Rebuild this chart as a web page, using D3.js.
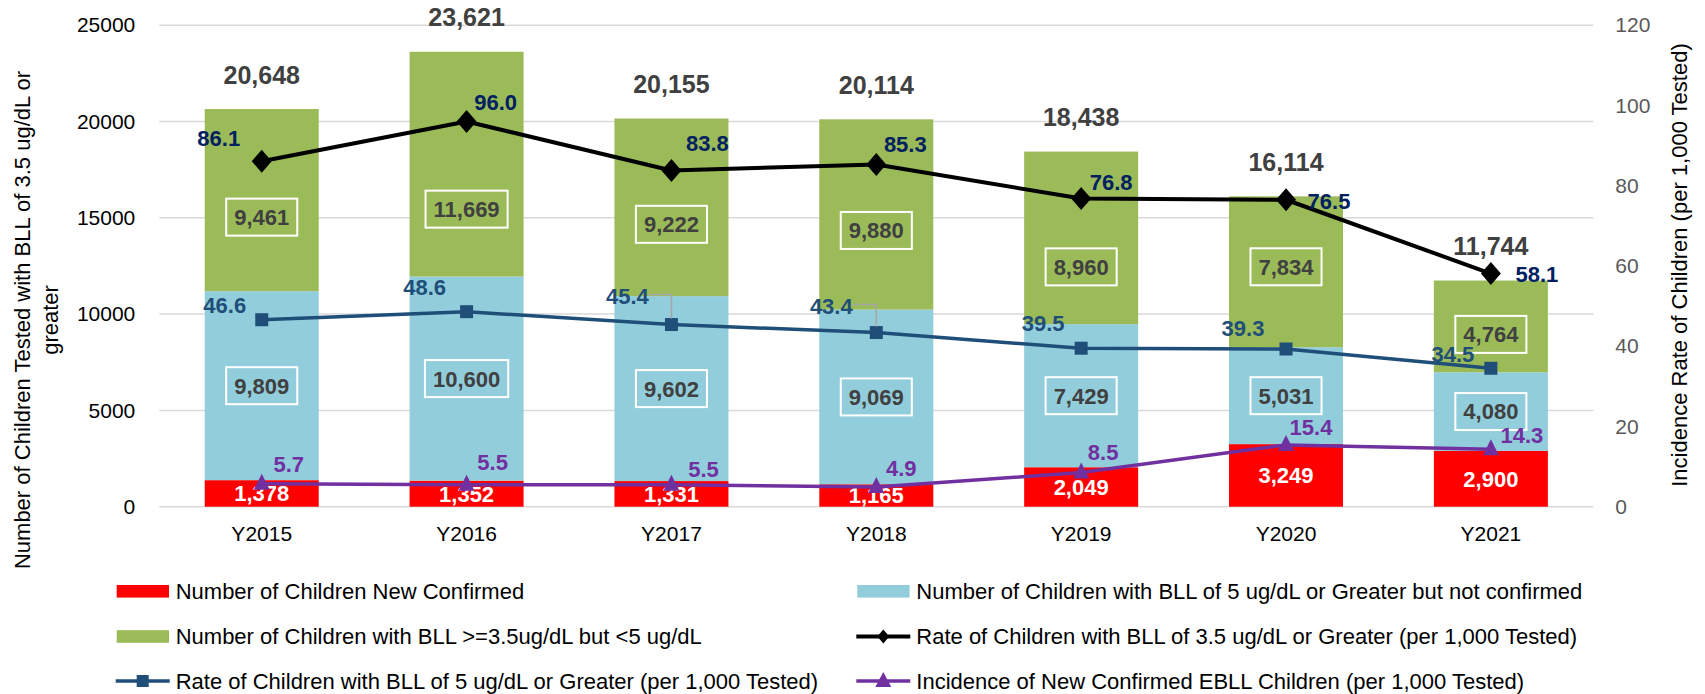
<!DOCTYPE html>
<html>
<head>
<meta charset="utf-8">
<script src="https://cdn.jsdelivr.net/npm/d3@7"></script>
<style>
  html, body { margin: 0; padding: 0; background: #ffffff; }
  svg { display: block; font-family: "Liberation Sans", Arial, sans-serif; }
</style>
</head>
<body>
<svg id="chart" width="1705" height="694"></svg>
<script>
// ---------------- data ----------------
const categories = ["Y2015", "Y2016", "Y2017", "Y2018", "Y2019", "Y2020", "Y2021"];
const newConfirmed = [1378, 1352, 1331, 1165, 2049, 3249, 2900];
const notConfirmed = [9809, 10600, 9602, 9069, 7429, 5031, 4080];
const between35and5 = [9461, 11669, 9222, 9880, 8960, 7834, 4764];
const rate35 = [86.1, 96.0, 83.8, 85.3, 76.8, 76.5, 58.1];
const rate5 = [46.6, 48.6, 45.4, 43.4, 39.5, 39.3, 34.5];
const incidence = [5.7, 5.5, 5.5, 4.9, 8.5, 15.4, 14.3];
const leftTicks = [0, 5000, 10000, 15000, 20000, 25000];
const rightTicks = [0, 20, 40, 60, 80, 100, 120];

const seriesNames = [
  "Number of Children New Confirmed",
  "Number of Children with BLL of 5 ug/dL or Greater but not confirmed",
  "Number of Children with BLL >=3.5ug/dL but <5 ug/dL",
  "Rate of Children with BLL of 3.5 ug/dL or Greater (per 1,000 Tested)",
  "Rate of Children with BLL of 5 ug/dL or Greater (per 1,000 Tested)",
  "Incidence of New Confirmed EBLL Children (per 1,000 Tested)"
];

// ---------------- label layout nudges (px) ----------------
const greenLabelNudge = [17, 45, 17, 16, 29, -5, 8];
const rate35LabelOffset = [[-43, -23], [29, -19], [36, -27], [29, -20], [30, -16], [43, 1], [46, 1]];
const rate5LabelOffset = [[-37, -15], [-42, -25], [-44, -28], [-45, -26], [-38, -25], [-43, -21], [-38, -14]];
const incidenceLabelOffset = [[27, -20], [26, -23], [32, -16], [25, -19], [22, -21], [25, -18], [31, -14]];
const leaderIdx = [2, 3];

// ---------------- styles ----------------
const C = {
  red: "#FF0000", blue: "#92CDDC", green: "#9BBB59",
  black: "#000000", navy: "#1F4E79", purple: "#7030A0",
  grid: "#D9D9D9", lblDark: "#404040", lblBlack: "#002060"
};

const svg = d3.select("#chart");
const plot = { left: 159.3, right: 1593.3, top: 25.2, bottom: 506.7 };

const x = d3.scaleBand().domain(categories).range([plot.left, plot.right])
  .paddingInner(0.4435).paddingOuter(0.22175);
const yL = d3.scaleLinear().domain([0, 25000]).range([plot.bottom, plot.top]);
const yR = d3.scaleLinear().domain([0, 120]).range([plot.bottom, plot.top]);
const cx = c => x(c) + x.bandwidth() / 2;

// gridlines
svg.append("g").selectAll("line").data(leftTicks).join("line")
  .attr("x1", plot.left).attr("x2", plot.right)
  .attr("y1", d => yL(d)).attr("y2", d => yL(d))
  .attr("stroke", C.grid).attr("stroke-width", 1.5);

// left axis
const gL = svg.append("g").attr("transform", `translate(${plot.left - 24},0)`)
  .call(d3.axisLeft(yL).tickValues(leftTicks).tickSize(0).tickPadding(0).tickFormat(d3.format("d")));
gL.select(".domain").remove();
gL.selectAll("text").attr("font-size", 21).attr("fill", "#000").attr("font-family", "Liberation Sans, Arial, sans-serif");

// right axis
const gR = svg.append("g").attr("transform", `translate(${plot.right + 22},0)`)
  .call(d3.axisRight(yR).tickValues(rightTicks).tickSize(0).tickPadding(0));
gR.select(".domain").remove();
gR.selectAll("text").attr("font-size", 21).attr("fill", "#595959").attr("font-family", "Liberation Sans, Arial, sans-serif");

// bottom axis labels
const gB = svg.append("g").attr("transform", `translate(0,${plot.bottom + 19})`)
  .call(d3.axisBottom(x).tickSize(0).tickPadding(0));
gB.select(".domain").remove();
gB.selectAll("text").attr("font-size", 21).attr("fill", "#000").attr("dy", "0.71em")
  .attr("font-family", "Liberation Sans, Arial, sans-serif");

// axis titles
const titleL = svg.append("text").attr("transform", `translate(22,320) rotate(-90)`)
  .attr("text-anchor", "middle").attr("font-size", 22).attr("fill", "#000");
titleL.append("tspan").attr("x", 0).attr("dy", "0.35em").text("Number of Children Tested with BLL of 3.5 ug/dL or");
titleL.append("tspan").attr("x", 0).attr("dy", "1.27em").text("greater");

svg.append("text").attr("transform", `translate(1679,265) rotate(-90)`)
  .attr("text-anchor", "middle").attr("dy", "0.35em").attr("font-size", 22).attr("fill", "#000")
  .text("Incidence Rate of Children (per 1,000 Tested)");

// stacked bars
const rows = categories.map((c, i) => ({ cat: c, a: newConfirmed[i], b: notConfirmed[i], g: between35and5[i] }));
const stack = d3.stack().keys(["a", "b", "g"])(rows);
const barColors = [C.red, C.blue, C.green];
stack.forEach((layer, li) => {
  svg.append("g").selectAll("rect").data(layer).join("rect")
    .attr("x", d => x(d.data.cat)).attr("width", x.bandwidth())
    .attr("y", d => yL(d[1])).attr("height", d => yL(d[0]) - yL(d[1]))
    .attr("fill", barColors[li]);
});

const fmtN = d3.format(",");
const fmtR = d3.format(".1f");

// red segment labels
svg.append("g").selectAll("text").data(stack[0]).join("text")
  .attr("x", d => cx(d.data.cat)).attr("y", d => (yL(d[0]) + yL(d[1])) / 2)
  .attr("text-anchor", "middle").attr("dy", "0.36em")
  .attr("font-size", 22).attr("font-weight", "bold").attr("fill", "#fff")
  .text(d => fmtN(d[1] - d[0]));

// boxed labels for blue and green
function boxedLabels(layer, nudge) {
  const g = svg.append("g");
  layer.forEach((d, i) => {
    const px = cx(d.data.cat);
    const py = (yL(d[0]) + yL(d[1])) / 2 + (nudge ? nudge[i] : 0);
    const gg = g.append("g");
    const rect = gg.append("rect").attr("fill", "none").attr("stroke", "#fff").attr("stroke-width", 2);
    const t = gg.append("text").attr("x", px).attr("y", py).attr("text-anchor", "middle").attr("dy", "0.36em")
      .attr("font-size", 22).attr("font-weight", "bold").attr("fill", C.lblDark).text(fmtN(d[1] - d[0]));
    const w = t.node().getComputedTextLength() + 16;
    rect.attr("x", px - w / 2).attr("y", py - 18.5).attr("width", w).attr("height", 37);
  });
}
boxedLabels(stack[1], null);
boxedLabels(stack[2], greenLabelNudge);

// totals
svg.append("g").selectAll("text").data(stack[2]).join("text")
  .attr("x", d => cx(d.data.cat)).attr("y", d => yL(d[1]) - 34.5)
  .attr("text-anchor", "middle").attr("dy", "0.36em")
  .attr("font-size", 25).attr("font-weight", "bold").attr("fill", C.lblDark)
  .text(d => fmtN(d[1]));

// lines
function lineSeries(values, color, width, symbol, symSize) {
  const pts = values.map((v, i) => [cx(categories[i]), yR(v)]);
  svg.append("path").attr("d", d3.line()(pts)).attr("fill", "none")
    .attr("stroke", color).attr("stroke-width", width).attr("stroke-linejoin", "round");
  svg.append("g").selectAll("path").data(pts).join("path")
    .attr("transform", d => `translate(${d[0]},${d[1]})`)
    .attr("d", symbol).attr("fill", color);
  return pts;
}
const diamond = "M0,-11.5L10,0L0,11.5L-10,0Z";
const square = "M-6.5,-6.5H6.5V6.5H-6.5Z";
const triangle = "M0,-10L8,6H-8Z";

const p35 = lineSeries(rate35, C.black, 4, diamond);
const p5 = lineSeries(rate5, C.navy, 3.5, square);
const pInc = lineSeries(incidence, C.purple, 3.5, triangle);

// leader lines for blue labels
leaderIdx.forEach(i => {
  const [px, py] = p5[i];
  const lx = px + rate5LabelOffset[i][0] + 21;
  const ly = py + rate5LabelOffset[i][1] - 2;
  svg.append("path").attr("d", `M${lx},${ly}H${px}V${py - 6}`)
    .attr("fill", "none").attr("stroke", "#A6A6A6").attr("stroke-width", 1.5);
});

// line value labels
function lineLabels(values, pts, offsets, color) {
  svg.append("g").selectAll("text").data(values).join("text")
    .attr("x", (d, i) => pts[i][0] + offsets[i][0])
    .attr("y", (d, i) => pts[i][1] + offsets[i][1])
    .attr("text-anchor", "middle").attr("dy", "0.36em")
    .attr("font-size", 22).attr("font-weight", "bold").attr("fill", color)
    .text(d => fmtR(d));
}
lineLabels(rate35, p35, rate35LabelOffset, C.lblBlack);
lineLabels(rate5, p5, rate5LabelOffset, C.navy);
lineLabels(incidence, pInc, incidenceLabelOffset, C.purple);

// legend
const legendItems = [
  { name: seriesNames[0], type: "bar", color: C.red, col: 0, row: 0 },
  { name: seriesNames[1], type: "bar", color: C.blue, col: 1, row: 0 },
  { name: seriesNames[2], type: "bar", color: C.green, col: 0, row: 1 },
  { name: seriesNames[3], type: "line", color: C.black, sym: "M0,-7L6,0L0,7L-6,0Z", col: 1, row: 1, w: 4 },
  { name: seriesNames[4], type: "line", color: C.navy, sym: "M-6,-6H6V6H-6Z", col: 0, row: 2, w: 3.5 },
  { name: seriesNames[5], type: "line", color: C.purple, sym: "M0,-9L8,6H-8Z", col: 1, row: 2, w: 3.5 }
];
const colX = [116.7, 857.3];
const rowY = [591.3, 636.5, 681];
const lg = svg.append("g");
legendItems.forEach(it => {
  const x0 = colX[it.col], y0 = rowY[it.row];
  if (it.type === "bar") {
    lg.append("rect").attr("x", x0).attr("y", y0 - 6.3).attr("width", 52.3).attr("height", 12.6).attr("fill", it.color);
  } else {
    lg.append("line").attr("x1", x0 - 1).attr("x2", x0 + 53).attr("y1", y0).attr("y2", y0)
      .attr("stroke", it.color).attr("stroke-width", it.w);
    lg.append("path").attr("transform", `translate(${x0 + 26},${y0})`).attr("d", it.sym).attr("fill", it.color);
  }
  lg.append("text").attr("x", x0 + 59).attr("y", y0).attr("dy", "0.36em")
    .attr("font-size", 22).attr("fill", "#000").text(it.name);
});
</script>
</body>
</html>
